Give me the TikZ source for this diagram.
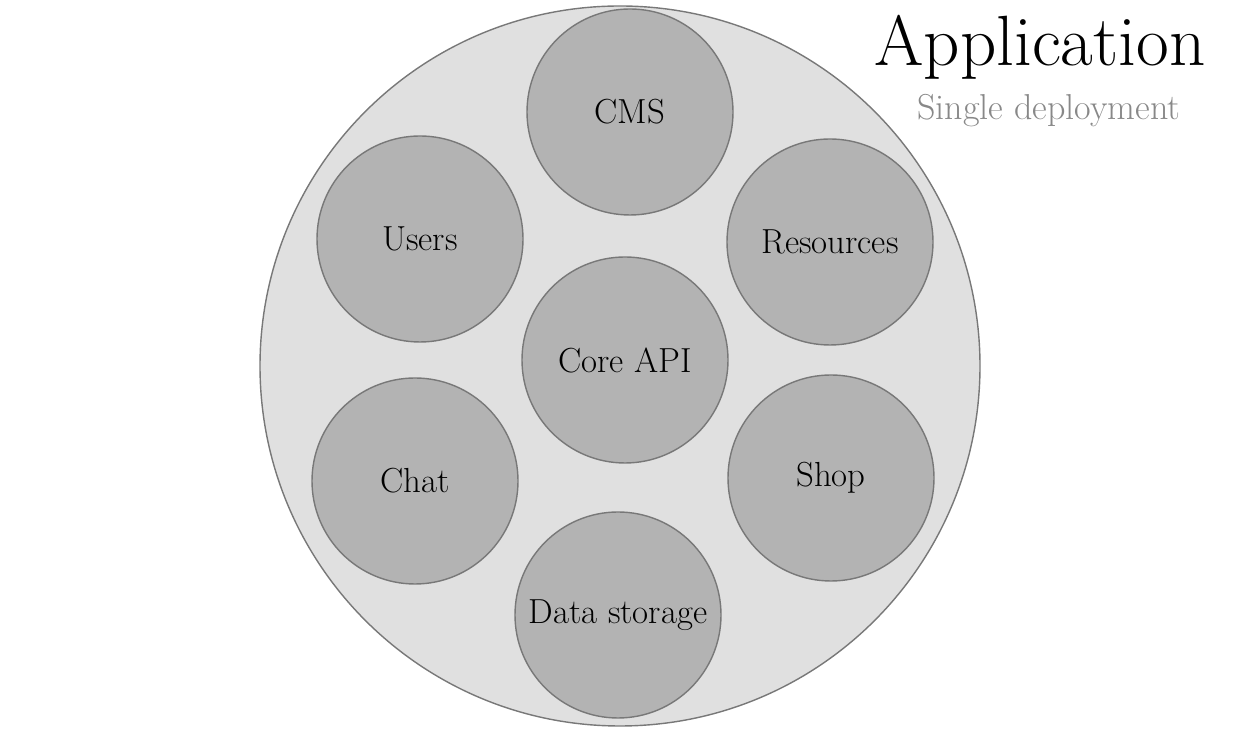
\documentclass[tikz,border=0pt]{standalone}
\usepackage{tikz}
\usetikzlibrary{positioning}
\definecolor{appfill}{RGB}{224,224,224}
\definecolor{svcfill}{RGB}{179,179,179}
\definecolor{ringline}{RGB}{120,120,120}
\definecolor{subgray}{RGB}{136,136,136}

\begin{document}
\begin{tikzpicture}[
    app/.style={draw=ringline, fill=appfill, circle, minimum size=14.4cm, inner sep=0pt, line width=0.8pt},
    svc/.style={draw=ringline, fill=svcfill, circle, minimum size=4.12cm, inner sep=0pt,
                line width=0.8pt, font=\fontsize{19.8}{22}\selectfont},
    title/.style={font=\fontsize{40.5}{44}\selectfont, inner sep=0pt},
    subtitle/.style={font=\fontsize{20.5}{24}\selectfont, text=subgray, inner sep=0pt}
  ]
    \useasboundingbox (0,0) rectangle (24.96,14.64);

    % Outer deployment
    \node[app] (app) at (12.4, 7.32) {};

    % Services
    \node[svc] (cms)  at (12.60, 12.40) {CMS};
    \node[svc] (usr)  at (8.40, 9.86)   {Users};
    \node[svc] (res)  at (16.60, 9.80)  {Resources};
    \node[svc] (core) at (12.50, 7.44)  {Core API};
    \node[svc] (chat) at (8.30, 5.02)   {Chat};
    \node[svc] (shop) at (16.62, 5.08)  {Shop};
    \node[svc] (data) at (12.36, 2.34)  {Data storage};

    % Heading
    \node[title, anchor=base] (ttl) at (20.8, 13.32) {Application};
    \node[subtitle, anchor=base] (sub) at (20.98, 12.24) {Single deployment};
\end{tikzpicture}
\end{document}
